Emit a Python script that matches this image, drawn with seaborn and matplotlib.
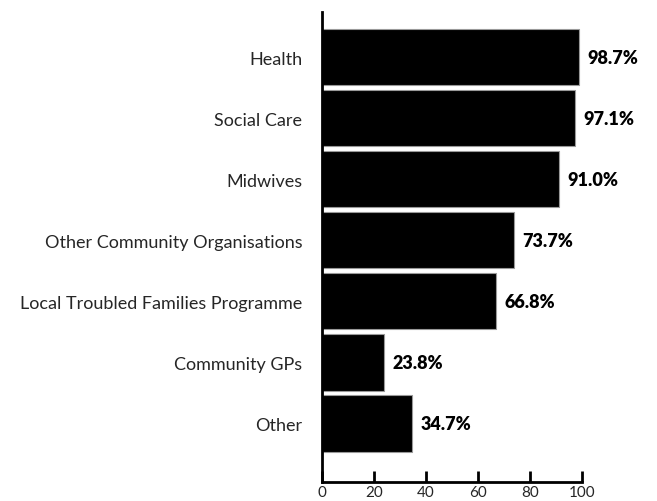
import pandas as pd
import matplotlib.pyplot as plt
import seaborn as sns

sns.set_theme(style="white")
plt.rcParams['font.family'] = ['Lato', 'DejaVu Sans']

# Dados
categorias = ['Health', 'Social Care', 'Midwives', 'Other Community Organisations',
              'Local Troubled Families Programme', 'Community GPs', 'Other']
valores = [98.7, 97.1, 91.0, 73.7, 66.8, 23.8, 34.7]
ticks_x = [0, 20, 40, 60, 80, 100]

df = pd.DataFrame({'categoria': categorias, 'valor': valores})

fig = plt.figure(figsize=(6.57, 5.02), dpi=100)
ax = fig.add_axes([0.490, 0.038, 0.396, 0.936])

sns.barplot(data=df, x='valor', y='categoria', orient='h', color='black',
            width=0.92, edgecolor='#999999', linewidth=0.8, saturation=1, ax=ax)

# Rótulos de valor
for i, v in enumerate(valores):
    ax.text(v + 3.2, i, f'{v:.1f}%', va='center', ha='left',
            fontsize=13, fontweight='heavy', color='black')

ax.set_xlim(0, 100)
ax.set_ylim(6.957, -0.737)
ax.set_xticks(ticks_x)
ax.set_xlabel('')
ax.set_ylabel('')

sns.despine(ax=ax, top=True, right=True)
for s in ['left', 'bottom']:
    ax.spines[s].set_color('black')
    ax.spines[s].set_linewidth(2)

ax.tick_params(axis='x', direction='in', length=8, width=2, color='black',
               labelsize=11, pad=2, bottom=True)
ax.tick_params(axis='y', length=0, labelsize=13, pad=14)
ax.grid(False)

fig.savefig('out.png', dpi=100)
